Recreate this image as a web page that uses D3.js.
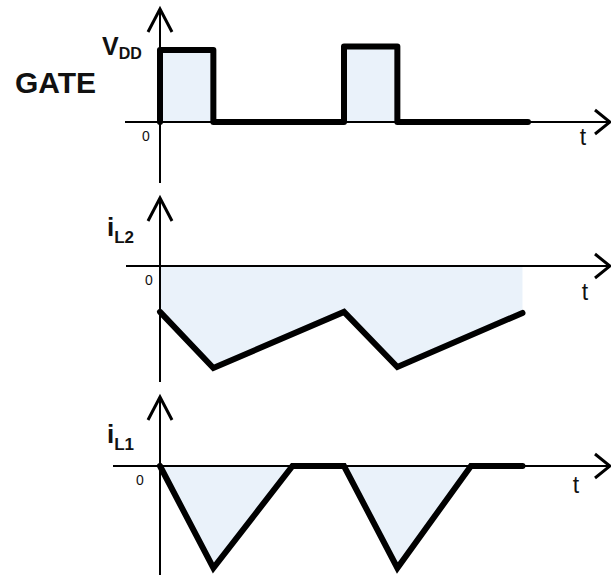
<!DOCTYPE html>
<html>
<head>
<meta charset="utf-8">
<script src="https://cdn.jsdelivr.net/npm/d3@7/dist/d3.min.js"></script>
<style>
  html, body { margin: 0; padding: 0; background: #fff; }
  svg { display: block; font-family: "Liberation Sans", Arial, sans-serif; }
</style>
</head>
<body>
<svg id="chart" width="611" height="575"></svg>
<script>
// ---- data (time in arbitrary units, one switching period = 10) ----
const gateTime = [0, 0, 2.9, 2.9, 10, 10, 12.9, 12.9, 20];
const gateValue = [0, 1, 1, 0, 0, 1.05, 1.05, 0, 0];
const iL2Time = [0, 2.9, 10, 12.9, 19.7];
const iL2Value = [-0.45, -1.0, -0.45, -0.99, -0.46];
const iL1Time = [0, 2.9, 7.2, 10, 12.9, 16.9, 19.7];
const iL1Value = [0, -1, 0, 0, -1, 0, 0];
const zeroLabel = "0";
const timeLabel = "t";

const svg = d3.select("#chart");
const fillColor = "#eaf2fa";
const x = d3.scaleLinear().domain([0, 10]).range([160, 344]);

function zip(t, v) { return t.map((d, i) => ({ t: d, v: v[i] })); }

function panel(cfg) {
  const g = svg.append("g");
  const y = d3.scaleLinear().domain(cfg.domain).range(cfg.range);
  const data = zip(cfg.time, cfg.values);
  const y0 = y(0);
  // fill
  g.append("path").datum(data)
    .attr("d", d3.area().x(d => x(d.t)).y0(y0).y1(d => y(d.v)))
    .attr("fill", fillColor);
  // axes
  g.append("line").attr("x1", cfg.xStart).attr("x2", 609).attr("y1", y0).attr("y2", y0)
    .attr("stroke", "#000").attr("stroke-width", 2);
  g.append("path")
    .attr("d", `M595,${y0 - 12}L610,${y0}L595,${y0 + 12}`)
    .attr("fill", "none").attr("stroke", "#000").attr("stroke-width", 3)
    .attr("stroke-linejoin", "miter");
  const ax = x(0);
  g.append("line").attr("x1", ax).attr("x2", ax).attr("y1", cfg.yBottom).attr("y2", cfg.yTop + 1)
    .attr("stroke", "#000").attr("stroke-width", 2);
  g.append("path")
    .attr("d", `M${ax - 12},${cfg.yTop + 24}L${ax},${cfg.yTop + 1}L${ax + 12},${cfg.yTop + 24}`)
    .attr("fill", "none").attr("stroke", "#000").attr("stroke-width", 3)
    .attr("stroke-linejoin", "miter");
  // waveform
  g.append("path").datum(data)
    .attr("d", d3.line().x(d => x(d.t)).y(d => y(d.v)))
    .attr("fill", "none").attr("stroke", "#000").attr("stroke-width", 6)
    .attr("stroke-linejoin", cfg.join).attr("stroke-linecap", "round");
  // labels
  g.append("text").attr("x", cfg.zeroX).attr("y", y0 + 19)
    .attr("text-anchor", "middle").attr("font-size", 14).attr("fill", "#111").text(zeroLabel);
  g.append("text").attr("x", cfg.tX).attr("y", y0 + cfg.tDy)
    .attr("text-anchor", "middle").attr("font-size", 23).attr("fill", "#111").text(timeLabel);
  return g;
}

panel({ time: gateTime, values: gateValue, domain: [0, 1], range: [122, 50],
  xStart: 125, yTop: 8, yBottom: 183, zeroX: 146, tX: 583, tDy: 23, join: "round" });
panel({ time: iL2Time, values: iL2Value, domain: [-1, 0], range: [368, 266],
  xStart: 126, yTop: 197, yBottom: 382, zeroX: 149, tX: 585, tDy: 34, join: "miter" });
panel({ time: iL1Time, values: iL1Value, domain: [-1, 0], range: [568, 466],
  xStart: 113, yTop: 396, yBottom: 575, zeroX: 140, tX: 576, tDy: 27, join: "miter" });

// titles
svg.append("text").attr("x", 15).attr("y", 93).attr("font-size", 30).attr("font-weight", "bold")
  .attr("fill", "#111").text("GATE");

function subLabel(xp, yp, main, sub, mainSize, subSize, drop) {
  const t = svg.append("text").attr("x", xp).attr("y", yp).attr("font-weight", "bold").attr("fill", "#111");
  t.append("tspan").attr("font-size", mainSize).text(main);
  t.append("tspan").attr("font-size", subSize).attr("dy", drop).text(sub);
}
subLabel(102, 55, "V", "DD", 25, 16, 4);
subLabel(107, 236, "i", "L2", 26, 17, 7);
subLabel(107, 443, "i", "L1", 26, 17, 7);
</script>
</body>
</html>
